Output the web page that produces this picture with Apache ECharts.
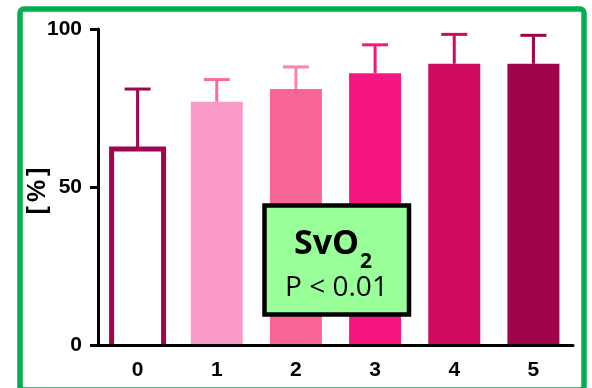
<!DOCTYPE html>
<html>
<head>
<meta charset="utf-8">
<script src="https://cdn.jsdelivr.net/npm/echarts@6/dist/echarts.min.js"></script>
<style>
html,body{margin:0;padding:0;background:#fff;}
#chart{width:592px;height:388px;}
</style>
</head>
<body>
<div id="chart"></div>
<script>
// ---- data ----
var categories = ['0', '1', '2', '3', '4', '5'];
var meanValues = [62, 77, 81, 86, 89, 89];
var upperValues = [81, 84, 88, 95, 98.3, 98];
var yTicks = [0, 50, 100];
var yAxisTitle = '[%]';

// ---- styles ----
var barFill = ['#FFFFFF', '#F99AC8', '#FA6599', '#F5177F', '#D00A60', '#9E044A'];
var barEdge = ['#A00550', null, null, null, null, null];
var errColors = ['#A00550', '#FF6A9C', '#FF82AC', '#F5177F', '#D00A60', '#9E044A'];

var chart = echarts.init(document.getElementById('chart'), null, {renderer: 'canvas'});

var barData = meanValues.map(function (v, i) {
  return {value: v, itemStyle: {color: barFill[i]}};
});
var errData = meanValues.map(function (v, i) { return [i, v, upperValues[i]]; });

var axisFont = {fontFamily: 'Liberation Sans', fontWeight: 'bold', fontSize: 21, color: '#000'};
var HALF_BAR = 26;
var titleRich = {
  a: {fontFamily: 'Liberation Sans', fontWeight: 'bold', fontSize: 25, fill: '#000'},
  b: {fontFamily: 'Liberation Sans', fontWeight: 'bold', fontSize: 25, fill: '#000', padding: [0, 4]}
};

var option = {
  animation: false,
  grid: {left: 98, right: 19, top: 29, bottom: 43},
  xAxis: {
    type: 'category',
    data: categories,
    z: 5,
    axisLine: {lineStyle: {color: '#000', width: 3}},
    axisTick: {alignWithLabel: true, length: 8, lineStyle: {color: '#000', width: 3}},
    axisLabel: Object.assign({margin: 15}, axisFont)
  },
  yAxis: {
    type: 'value',
    min: 0, max: 100, interval: 50,
    z: 5,
    axisLine: {show: true, lineStyle: {color: '#000', width: 3}},
    axisTick: {show: true, length: 8, lineStyle: {color: '#000', width: 3}},
    splitLine: {show: false},
    axisLabel: Object.assign({margin: 16}, axisFont)
  },
  series: [
    {
      type: 'bar',
      data: barData,
      barWidth: 52,
      z: 2
    },
    {
      type: 'custom',
      data: errData,
      z: 3,
      renderItem: function (params, api) {
        var i = api.value(0);
        var zero = api.coord([i, 0]);
        var base = api.coord([i, api.value(1)]);
        var top = api.coord([i, api.value(2)]);
        var c = errColors[i];
        var children = [
          {type: 'line', shape: {x1: base[0], y1: base[1], x2: top[0], y2: top[1]}, style: {stroke: c, lineWidth: 3}},
          {type: 'line', shape: {x1: top[0] - 13, y1: top[1], x2: top[0] + 13, y2: top[1]}, style: {stroke: c, lineWidth: 3}}
        ];
        if (barEdge[i]) {
          children.push({
            type: 'polyline',
            shape: {points: [
              [base[0] - HALF_BAR, zero[1]], [base[0] - HALF_BAR, base[1]],
              [base[0] + HALF_BAR, base[1]], [base[0] + HALF_BAR, zero[1]]
            ]},
            style: {stroke: barEdge[i], lineWidth: 5, fill: null, lineJoin: 'miter'}
          });
        }
        return {type: 'group', children: children};
      }
    }
  ],
  graphic: [
    {
      type: 'rect', z: -10,
      shape: {x: 20, y: 9, width: 564, height: 381, r: 4},
      style: {fill: 'none', stroke: '#00B050', lineWidth: 5.5}
    },
    {
      type: 'text', z: 10, x: 38, y: 191, rotation: Math.PI / 2,
      style: {
        text: '{a|' + yAxisTitle.charAt(0) + '}{b|' + yAxisTitle.charAt(1) + '}{a|' + yAxisTitle.charAt(2) + '}',
        rich: titleRich, textAlign: 'center', textVerticalAlign: 'middle'
      }
    },
    {
      type: 'rect', z: 100,
      shape: {x: 264.5, y: 205.5, width: 144.5, height: 109},
      style: {fill: '#99FF99', stroke: '#000', lineWidth: 4.5}
    },
    {
      type: 'text', z: 101, x: 294, y: 244,
      style: {text: 'SvO', font: 'bold 34px "Open Sans"', fill: '#000', textAlign: 'left', textVerticalAlign: 'middle'}
    },
    {
      type: 'text', z: 101, x: 360, y: 262,
      style: {text: '2', font: 'bold 21px "Open Sans"', fill: '#000', textAlign: 'left', textVerticalAlign: 'middle'}
    },
    {
      type: 'text', z: 101, x: 336.5, y: 288.5,
      style: {text: 'P < 0.01', font: '28px "Open Sans"', fill: '#000', textAlign: 'center', textVerticalAlign: 'middle'}
    }
  ]
};
chart.setOption(option);
</script>
</body>
</html>
